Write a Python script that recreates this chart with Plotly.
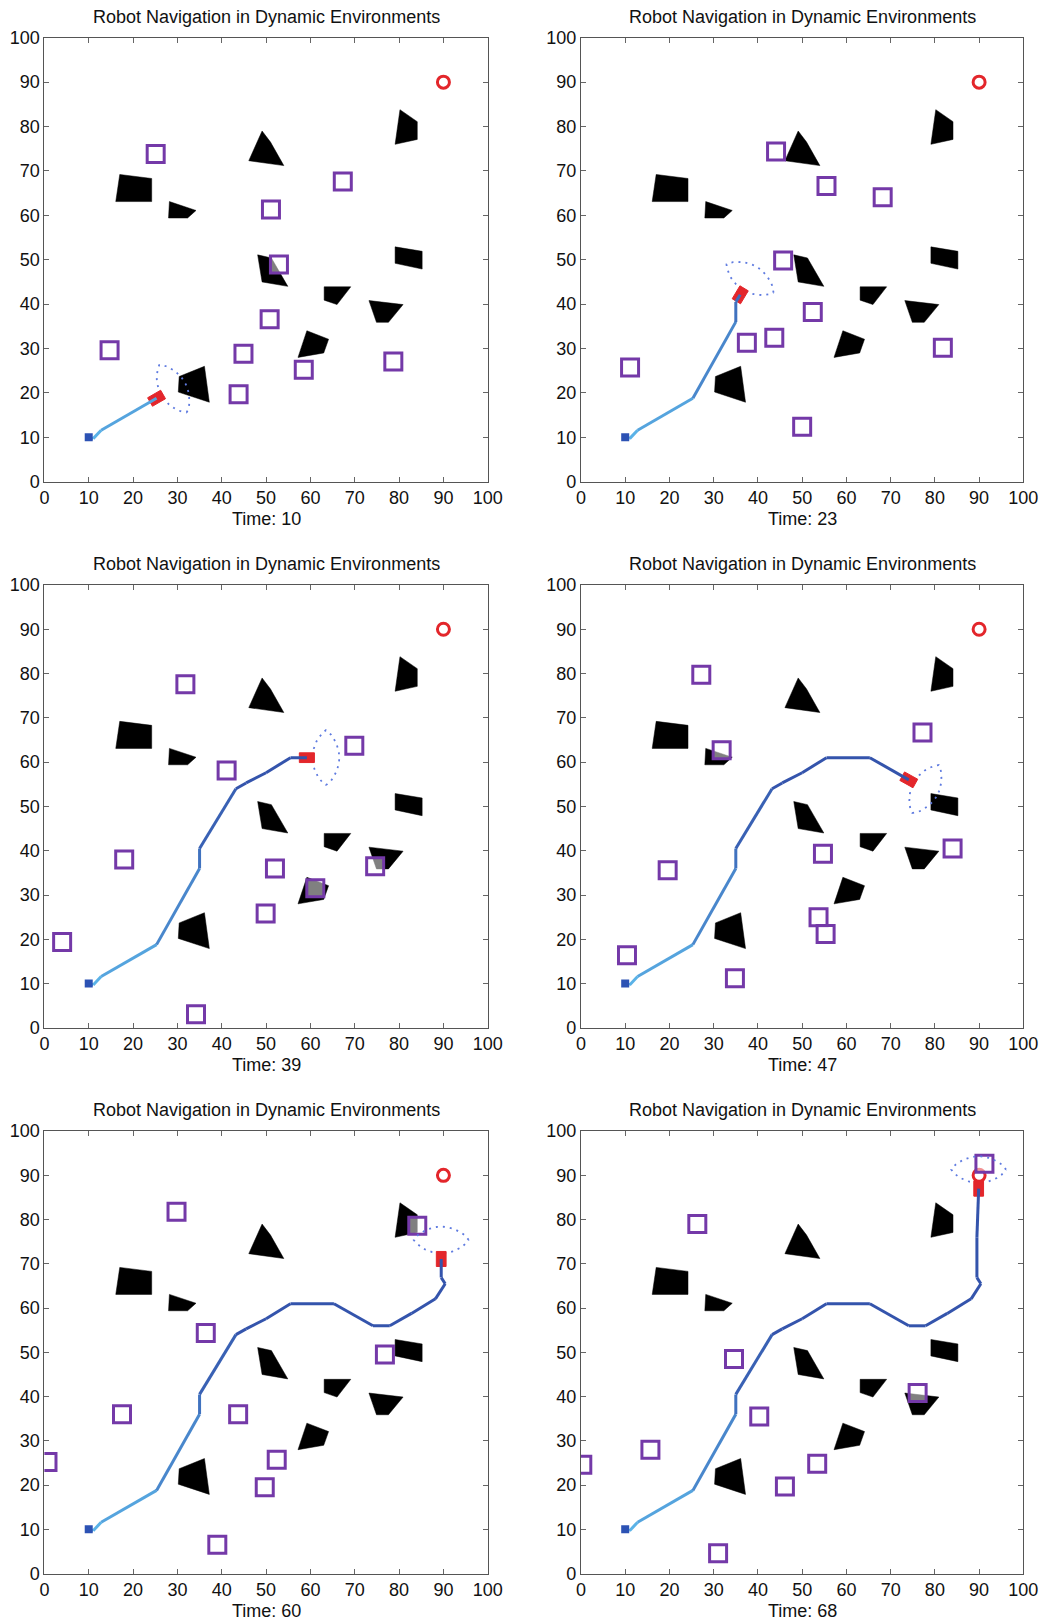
import math
import plotly.graph_objects as go

# ---------------- data ----------------
TIMES = [10, 23, 39, 47, 60, 68]
PANEL_TITLE = "Robot Navigation in Dynamic Environments"
TICKS = [0, 10, 20, 30, 40, 50, 60, 70, 80, 90, 100]

START_X, START_Y = [10], [10]
GOAL_X, GOAL_Y = [90], [90]

# static obstacles (polygon vertices)
OBS_1 = [(17.0, 69.2), (24.2, 68.3), (24.2, 63.1), (16.1, 63.1)]
OBS_2 = [(28.2, 63.1), (34.2, 61.1), (32.3, 59.4), (28.0, 59.4)]
OBS_3 = [(49.1, 79.0), (51.0, 76.5), (54.0, 71.2), (46.1, 72.3)]
OBS_4 = [(80.2, 83.8), (84.1, 81.1), (84.1, 77.1), (79.1, 76.0)]
OBS_5 = [(48.1, 51.1), (51.2, 50.4), (54.9, 44.0), (49.1, 45.0)]
OBS_6 = [(79.1, 52.9), (85.2, 51.9), (85.2, 47.9), (79.1, 49.2)]
OBS_7 = [(63.1, 43.9), (69.1, 43.9), (66.0, 39.9), (63.1, 40.9)]
OBS_8 = [(73.2, 40.8), (80.9, 39.9), (77.6, 35.9), (74.9, 35.9)]
OBS_9 = [(59.2, 34.0), (64.1, 32.1), (63.0, 29.0), (57.2, 28.0)]
OBS_10 = [(30.4, 23.7), (36.1, 26.0), (37.2, 17.9), (30.2, 20.2)]
OBSTACLES = [OBS_1, OBS_2, OBS_3, OBS_4, OBS_5, OBS_6, OBS_7, OBS_8, OBS_9, OBS_10]

# moving obstacles (square centres) per snapshot
MOV_X = [
    [25.1, 67.3, 51.1, 52.9, 50.8, 14.7, 44.9, 58.5, 78.7, 43.8],
    [44.1, 55.5, 68.2, 45.7, 52.4, 37.5, 43.7, 11.1, 81.8, 50.0],
    [31.8, 69.9, 41.1, 18.0, 52.0, 74.6, 61.1, 49.9, 4.0, 34.2],
    [27.2, 77.2, 31.8, 19.6, 54.7, 84.0, 53.7, 55.3, 10.4, 34.8],
    [29.8, 84.1, 36.4, 76.8, 17.5, 43.7, 0.7, 52.4, 49.7, 39.0],
    [91.2, 26.3, 34.6, 76.1, 40.3, 15.7, 0.3, 53.4, 46.1, 31.0],
]
MOV_Y = [
    [73.8, 67.6, 61.3, 48.9, 36.6, 29.6, 28.8, 25.2, 27.1, 19.7],
    [74.4, 66.6, 64.1, 49.8, 38.2, 31.3, 32.4, 25.7, 30.2, 12.4],
    [77.6, 63.7, 58.1, 38.0, 36.0, 36.5, 31.5, 25.8, 19.4, 3.1],
    [79.7, 66.7, 62.7, 35.6, 39.3, 40.5, 25.0, 21.2, 16.4, 11.2],
    [81.8, 78.6, 54.4, 49.5, 36.0, 36.0, 25.2, 25.7, 19.5, 6.5],
    [92.6, 79.0, 48.5, 40.8, 35.5, 28.0, 24.6, 24.8, 19.7, 4.6],
]

# travelled path vertices
PATH_X = [10, 11.0, 12.8, 25.3, 35.0, 35.0, 43.2, 45.5, 50.0, 55.5, 65.3, 74.1,
          77.9, 82.8, 88.2, 90.4, 89.5, 89.5]
PATH_Y = [10, 9.7, 11.6, 18.8, 36.0, 40.5, 54.0, 55.3, 57.6, 61.0, 61.0, 56.0,
          56.0, 58.8, 62.1, 65.5, 66.9, 76.0]
PATH_DONE = [3, 6, 10, 11, 17, 18]   # vertices passed before current robot pose

# robot pose per snapshot
ROBOT_X = [25.3, 36.0, 59.2, 74.1, 89.5, 89.9]
ROBOT_Y = [18.8, 42.1, 61.0, 56.0, 71.1, 87.0]
ROBOT_HEADING = [30, 59, 0, -29, 90, 90]

# ---------------- layout geometry (pixels) ----------------
W, H = 1049, 1623
COLS = [(32.0, 484.0), (579.0, 1030.0)]
ROWS = [(20.0, 469.5), (574.0, 1022.5), (1127.0, 1575.0)]

PURPLE = "#7439a8"
RED = "#e3262b"
FONT = "Liberation Sans, Arial, Helvetica, sans-serif"

LIGHT = (92, 182, 234)
DARK = (52, 84, 172)
GRAD_LEN = 58.0

fig = go.Figure()


def path_color(s):
    t = min(max(s / GRAD_LEN, 0.0), 1.0)
    c = [round(LIGHT[k] + (DARK[k] - LIGHT[k]) * t) for k in range(3)]
    return f"rgb({c[0]},{c[1]},{c[2]})"


annotations = []
for i in range(6):
    r, c = divmod(i, 2)
    ax = i + 1
    xs = "x" if ax == 1 else f"x{ax}"
    ys = "y" if ax == 1 else f"y{ax}"
    x0, x1 = COLS[c]
    yt, yb = ROWS[r]
    axis_common = dict(range=[0, 100], tickmode="array", tickvals=TICKS,
                       ticks="inside", ticklen=5, tickwidth=1, tickcolor="#666",
                       showline=True, linecolor="#555", linewidth=1, mirror="ticks",
                       showgrid=False, zeroline=False,
                       tickfont=dict(family=FONT, size=18, color="#111"))
    fig.layout[f"xaxis{'' if ax == 1 else ax}"] = dict(
        domain=[x0 / W, x1 / W], anchor=ys, **axis_common)
    fig.layout[f"yaxis{'' if ax == 1 else ax}"] = dict(
        domain=[1 - yb / H, 1 - yt / H], anchor=xs, **axis_common)

    # static obstacles
    ox, oy = [], []
    for poly in OBSTACLES:
        ox += [p[0] for p in poly] + [poly[0][0], None]
        oy += [p[1] for p in poly] + [poly[0][1], None]
    fig.add_trace(go.Scatter(x=ox, y=oy, xaxis=xs, yaxis=ys, mode="lines",
                             fill="toself", fillcolor="black",
                             line=dict(width=0.5, color="black"),
                             hoverinfo="skip", showlegend=False))

    # goal
    fig.add_trace(go.Scatter(x=GOAL_X, y=GOAL_Y, xaxis=xs, yaxis=ys, mode="markers",
                             marker=dict(symbol="circle-open", size=12, color=RED,
                                         line=dict(width=3, color=RED)),
                             showlegend=False))

    # moving obstacles
    fig.add_trace(go.Scatter(x=MOV_X[i], y=MOV_Y[i], xaxis=xs, yaxis=ys, mode="markers",
                             marker=dict(symbol="square", size=17,
                                         color="rgba(255,255,255,0.5)",
                                         line=dict(width=3, color=PURPLE)),
                             showlegend=False))

    # robot pose
    rx, ry, h = ROBOT_X[i], ROBOT_Y[i], math.radians(ROBOT_HEADING[i])
    dx, dy = math.cos(h), math.sin(h)
    px, py = -dy, dx

    # sensing region (lens ahead of robot)
    D, L, Wd = 4.3, 6.2, 3.0
    cx, cy = rx + D * dx, ry + D * dy
    n = 24
    lx, ly = [], []
    for k in range(n + 1):
        s = -1 + 2 * k / n
        f = max(1 - s * s, 0.0) ** 0.8
        lx.append(cx + s * L * px + Wd * f * dx)
        ly.append(cy + s * L * py + Wd * f * dy)
    for k in range(n + 1):
        s = 1 - 2 * k / n
        f = max(1 - s * s, 0.0) ** 0.8
        lx.append(cx + s * L * px - Wd * f * dx)
        ly.append(cy + s * L * py - Wd * f * dy)
    fig.add_trace(go.Scatter(x=lx, y=ly, xaxis=xs, yaxis=ys, mode="lines",
                             line=dict(color="#5f7be0", width=1.8, dash="2px,5px"),
                             hoverinfo="skip", showlegend=False))

    # robot body
    RL, RW = 1.7, 1.1
    bx = [rx + RL * dx + RW * px, rx + RL * dx - RW * px,
          rx - RL * dx - RW * px, rx - RL * dx + RW * px]
    by = [ry + RL * dy + RW * py, ry + RL * dy - RW * py,
          ry - RL * dy - RW * py, ry - RL * dy + RW * py]
    fig.add_trace(go.Scatter(x=bx + [bx[0]], y=by + [by[0]], xaxis=xs, yaxis=ys,
                             mode="lines", fill="toself", fillcolor=RED,
                             line=dict(width=1, color=RED),
                             hoverinfo="skip", showlegend=False))

    # path
    vx = PATH_X[:PATH_DONE[i]] + [rx]
    vy = PATH_Y[:PATH_DONE[i]] + [ry]
    s = 0.0
    for k in range(len(vx) - 1):
        seg = math.hypot(vx[k + 1] - vx[k], vy[k + 1] - vy[k])
        col = path_color(s + seg / 2)
        s += seg
        fig.add_trace(go.Scatter(x=vx[k:k + 2], y=vy[k:k + 2], xaxis=xs, yaxis=ys,
                                 mode="lines", line=dict(color=col, width=3),
                                 hoverinfo="skip", showlegend=False))

    # start
    fig.add_trace(go.Scatter(x=START_X, y=START_Y, xaxis=xs, yaxis=ys, mode="markers",
                             marker=dict(symbol="square", size=8, color="#2c52b4"),
                             showlegend=False))

    dom_x = f"{xs} domain"
    dom_y = f"{ys} domain"
    annotations.append(dict(text=PANEL_TITLE, xref=dom_x, yref=dom_y, x=0.5, y=1,
                            xanchor="center", yanchor="bottom", yshift=9,
                            showarrow=False,
                            font=dict(family=FONT, size=18, color="#111")))
    annotations.append(dict(text=f"Time: {TIMES[i]}", xref=dom_x, yref=dom_y,
                            x=0.5, y=0, xanchor="center", yanchor="top", yshift=-25,
                            showarrow=False,
                            font=dict(family=FONT, size=18, color="#111")))

fig.update_layout(width=W, height=H, margin=dict(l=0, r=0, t=0, b=0),
                  paper_bgcolor="white", plot_bgcolor="white",
                  annotations=annotations, showlegend=False)

fig.write_html("out.html")
